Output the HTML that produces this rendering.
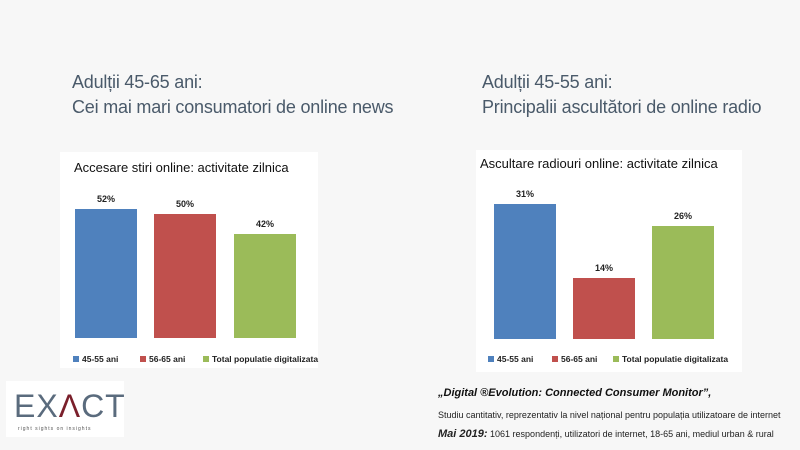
<!DOCTYPE html>
<html><head><meta charset="utf-8"><style>
body{margin:0;width:800px;height:450px;background:#f7f7f7;position:relative;overflow:hidden;font-family:"Liberation Sans",sans-serif}
.a{position:absolute}
.t{color:#4a5a6a;font-size:18px;line-height:25px;letter-spacing:-0.2px}
.p{background:#fff}
.bar{position:absolute}
.v{position:absolute;font-size:9px;font-weight:bold;color:#222;width:62px;text-align:center}
.ct{position:absolute;font-size:13px;color:#111;white-space:nowrap}
.lg{position:absolute;font-size:8.5px;font-weight:bold;color:#222;white-space:nowrap}
.sq{display:inline-block;width:6px;height:6px;margin-right:3px}
</style></head><body>
<div class="a t" style="left:72px;top:70px">Adulții 45-65 ani:<br>Cei mai mari consumatori de online news</div>
<div class="a t" style="left:482px;top:70px">Adulții 45-55 ani:<br>Principalii ascultători de online radio</div>

<div class="a p" style="left:60px;top:152px;width:258px;height:216px"></div>
<div class="ct" style="left:74px;top:160px">Accesare stiri online: activitate zilnica</div>
<div class="bar" style="left:75px;top:209px;width:62px;height:129px;background:#4f81bd"></div>
<div class="bar" style="left:154px;top:214px;width:62px;height:124px;background:#c0504d"></div>
<div class="bar" style="left:234px;top:234px;width:62px;height:104px;background:#9bbb59"></div>
<div class="v" style="left:75px;top:194px">52%</div>
<div class="v" style="left:154px;top:199px">50%</div>
<div class="v" style="left:234px;top:219px">42%</div>
<div class="lg" style="left:73px;top:354px"><span class="sq" style="background:#4f81bd"></span>45-55 ani</div>
<div class="lg" style="left:140px;top:354px"><span class="sq" style="background:#c0504d"></span>56-65 ani</div>
<div class="lg" style="left:203px;top:354px"><span class="sq" style="background:#9bbb59"></span>Total populatie digitalizata</div>

<div class="a p" style="left:476px;top:150px;width:266px;height:222px"></div>
<div class="ct" style="left:480px;top:156px">Ascultare radiouri online: activitate zilnica</div>
<div class="bar" style="left:494px;top:204px;width:62px;height:135px;background:#4f81bd"></div>
<div class="bar" style="left:573px;top:278px;width:62px;height:61px;background:#c0504d"></div>
<div class="bar" style="left:652px;top:226px;width:62px;height:113px;background:#9bbb59"></div>
<div class="v" style="left:494px;top:189px">31%</div>
<div class="v" style="left:573px;top:263px">14%</div>
<div class="v" style="left:652px;top:211px">26%</div>
<div class="lg" style="left:488px;top:354px"><span class="sq" style="background:#4f81bd"></span>45-55 ani</div>
<div class="lg" style="left:552px;top:354px"><span class="sq" style="background:#c0504d"></span>56-65 ani</div>
<div class="lg" style="left:613px;top:354px"><span class="sq" style="background:#9bbb59"></span>Total populatie digitalizata</div>

<div class="a" style="left:6px;top:381px;width:118px;height:56px;background:#fff"></div>
<div class="a" style="left:14px;top:388px;font-size:32px;color:#5a6b7d;letter-spacing:1px">EX<span style="color:#7a1f2b">Λ</span>CT</div>
<div class="a" style="left:18px;top:426px;font-size:5px;color:#555;letter-spacing:1px">right sights on insights</div>

<div class="a" style="left:438px;top:387px;font-size:11px;font-style:italic;font-weight:bold;color:#111">„Digital ®Evolution: Connected Consumer Monitor”,</div>
<div class="a" style="left:438px;top:410px;font-size:9px;color:#222">Studiu cantitativ, reprezentativ la nivel național pentru populația utilizatoare de internet</div>
<div class="a" style="left:438px;top:428px;font-size:9px;color:#222"><b style="font-size:11px;font-style:italic">Mai 2019:</b> 1061 respondenți, utilizatori de internet, 18-65 ani, mediul urban &amp; rural</div>
</body></html>
